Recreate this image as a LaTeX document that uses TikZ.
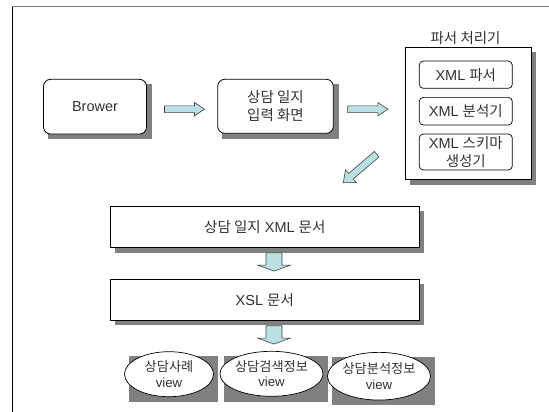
\documentclass[tikz,border=0pt]{standalone}
\usepackage{fontspec}
\setmainfont{Liberation Sans}
\newfontfamily\krf{Noto Sans CJK KR}
\usetikzlibrary{calc,backgrounds,shapes.geometric}
\definecolor{arrowblue}{RGB}{186,224,228}
\definecolor{shadowgray}{RGB}{128,128,128}
\definecolor{inkgray}{RGB}{50,50,50}
\definecolor{framegray}{RGB}{120,120,120}

\tikzset{
  boxtext/.style={text=inkgray, font=\fontsize{14.5}{17.5}\selectfont, align=center},
  viewtext/.style={text=inkgray, font=\fontsize{13.2}{15.5}\selectfont, align=center},
  roundbox/.style={draw=black, line width=0.8pt, fill=white, rounded corners=7pt,
    inner sep=0pt, boxtext},
  innerbox/.style={draw=black, line width=0.7pt, fill=white, rounded corners=4pt,
    inner sep=0pt, minimum width=93pt, boxtext},
  plainbox/.style={draw=black, line width=0.8pt, fill=white, inner sep=0pt, boxtext},
  viewnode/.style={ellipse, draw=black, line width=0.7pt, fill=white, inner sep=0pt,
    minimum width=89pt, minimum height=45pt, viewtext},
  shadowfill/.style={fill=shadowgray},
  arrowstyle/.style={fill=arrowblue, draw=black!75, line width=0.6pt, line join=miter},
  % block arrow: length / body half width / head half width / head length
  pics/blockarrow/.style args={#1/#2/#3/#4}{code={
    \filldraw[arrowstyle] (0,-#2) -- ({#1-#4},-#2) -- ({#1-#4},-#3) -- (#1,0)
      -- ({#1-#4},#3) -- ({#1-#4},#2) -- (0,#2) -- cycle;
  }}
}

\begin{document}
\begin{tikzpicture}[x=1pt,y=-1pt]
\useasboundingbox (0,0) rectangle (549,412);

% page frame
\draw[black, line width=0.8pt] (12.6,412) -- (12.6,6.3);
\draw[framegray, line width=1.4pt] (12.2,6.3) -- (549,6.3);

% top row
\node[roundbox, minimum width=103pt, minimum height=54.7pt] (brow) at (95,106.7) {Brower};
\node[roundbox, minimum width=115.6pt, minimum height=54pt] (input) at (275.5,106.3)
  {{\krf 상담 일지}\\{\krf 입력 화면}};

% parser block
\node[boxtext] (ptitle) at (465.6,37.7) {\krf 파서 처리기};
\node[plainbox, minimum width=125.6pt, minimum height=131.6pt] (parser) at (468.2,113.5) {};
\node[innerbox, minimum height=27.3pt] (xp) at (465.8,74.7) {XML {\krf 파서}};
\node[innerbox, minimum height=27.7pt] (xa) at (465.8,111.2) {XML {\krf 분석기}};
\node[innerbox, minimum height=36pt] (xs) at (465.8,152) {XML {\krf 스키마}\\{\krf 생성기}};

% documents
\node[plainbox, minimum width=308.4pt, minimum height=40.6pt] (xmldoc) at (264.8,227)
  {{\krf 상담 일지} XML {\krf 문서}};
\node[plainbox, minimum width=308.4pt, minimum height=40.7pt] (xsldoc) at (264.8,299.7)
  {XSL {\krf 문서}};

% views
\node[viewnode] (v1) at (169,374.2) {{\krf 상담사례}\\view};
\node[viewnode] (v2) at (271.5,373.8) {{\krf 상담검색정보}\\view};
\node[viewnode, minimum height=47.7pt] (v3) at (379,376.2) {{\krf 상담분석정보}\\view};

% shadows
\begin{scope}[on background layer]
  \foreach \n in {brow,input,parser,xmldoc,xsldoc}
    \fill[shadowfill] ($(\n.south west)+(5,5)$) rectangle ($(\n.north east)+(5,5)$);
  \foreach \n in {v1,v2,v3}
    \fill[shadowfill] ($(\n.west|-\n.south)+(4.5,5)$) rectangle ($(\n.east|-\n.north)+(4.5,5)$);
\end{scope}

% block arrows between the stages
\coordinate (a1) at (164.5,109.2);
\coordinate (a2) at (347.6,109.2);
\coordinate (a3) at (376.7,154.2);
\coordinate (a4) at ($(xmldoc.south)+(9.2,5.2)$);
\coordinate (a5) at ($(xsldoc.south)+(9.2,5.3)$);
\pic at (a1) {blockarrow=40/3.4/6.6/10};
\pic at (a2) {blockarrow=40.3/3.4/6.6/10};
\pic[rotate=-139.5] at (a3) {blockarrow=43.9/3.6/8.3/10};
\pic[rotate=-90] at (a4) {blockarrow=18.2/8/16.5/6};
\pic[rotate=-90] at (a5) {blockarrow=18.3/8/16.5/6};
\end{tikzpicture}
\end{document}
